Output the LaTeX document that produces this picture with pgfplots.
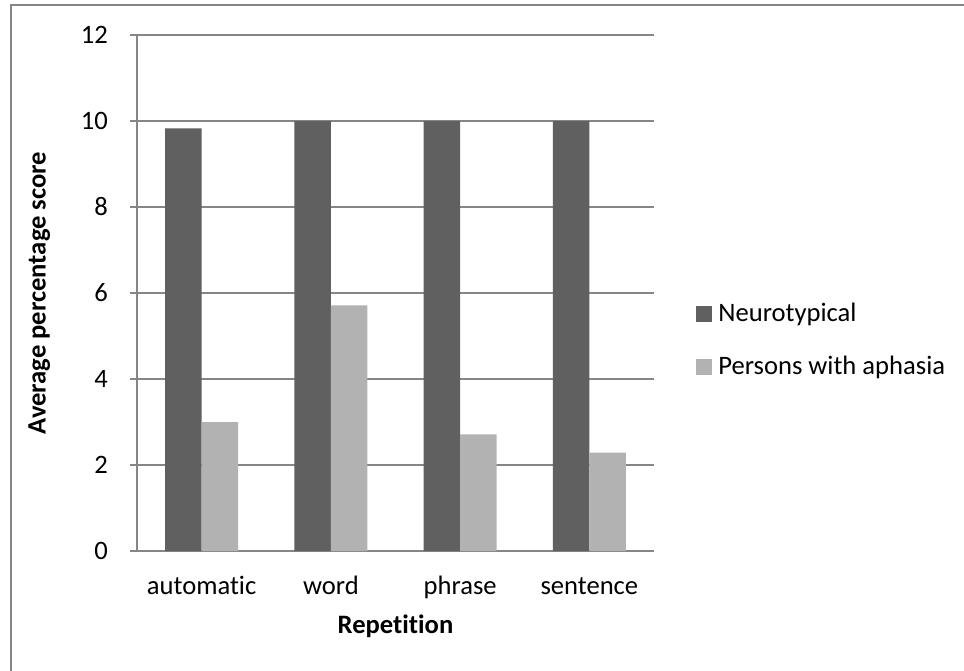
\documentclass[border=0pt]{standalone}
\usepackage{fontspec}
\setmainfont{Carlito}[RawFeature={-liga;-clig;-calt;-dlig}]
\usepackage{pgfplots}
\pgfplotsset{compat=1.18}
\definecolor{neuro}{RGB}{96,96,96}
\definecolor{aphasia}{RGB}{178,178,178}
\definecolor{gridgray}{RGB}{134,134,134}

\begin{document}
\begin{tikzpicture}
% page area and the chart frame
\path[use as bounding box] (0,0) rectangle (482pt,-335pt);
\draw[gridgray, line width=0.8pt] (5.5pt,-345pt) -- (5.5pt,-2.5pt) -- (490pt,-2.5pt);
\begin{axis}[
  at={(68.5pt,-275.5pt)}, anchor=south west,
  scale only axis, width=258.5pt, height=258pt,
  ybar=0pt, bar width=18.25pt,
  xmin=-0.5, xmax=3.5, ymin=0, ymax=12,
  xtick={0,1,2,3}, xticklabels={automatic,word,phrase,sentence},
  ytick={0,2,...,12},
  axis lines=left,
  axis line style={-, gridgray, line width=0.6pt},
  ymajorgrids, grid style={gridgray, line width=0.6pt},
  major x tick style={draw=none},
  tick align=outside, major tick length=3.5pt,
  major y tick style={gridgray, line width=0.6pt},
  tick label style={font=\fontsize{13.3}{15}\selectfont},
  xticklabel style={text height=9.5pt, text depth=3pt, yshift=-5pt},
  yticklabel style={xshift=-7.5pt},
  /pgf/number format/assume math mode=true,
  xlabel={Repetition}, ylabel={Average percentage score},
  label style={font=\fontsize{13.3}{15}\selectfont\bfseries},
  xlabel style={yshift=-0.5pt},
  ylabel style={yshift=8.5pt},
  legend style={at={(rel axis cs:1,0.408)}, anchor=west, xshift=21pt,
    draw=none, fill=none, inner sep=0pt, row sep=15.5pt, column sep=3pt,
    font=\fontsize{13.3}{15}\selectfont,
    nodes={inner sep=0pt}},
  legend cell align=left,
  legend image code/.code={\fill[#1] (0pt,-4pt) rectangle (8pt,4pt);},
]
\addplot[fill=neuro, draw=none] coordinates {(0,9.83) (1,10) (2,10) (3,10)};
\addplot[fill=aphasia, draw=none] coordinates {(0,3.0) (1,5.71) (2,2.71) (3,2.29)};
\legend{Neurotypical, Persons with aphasia}
\end{axis}
\end{tikzpicture}
\end{document}
